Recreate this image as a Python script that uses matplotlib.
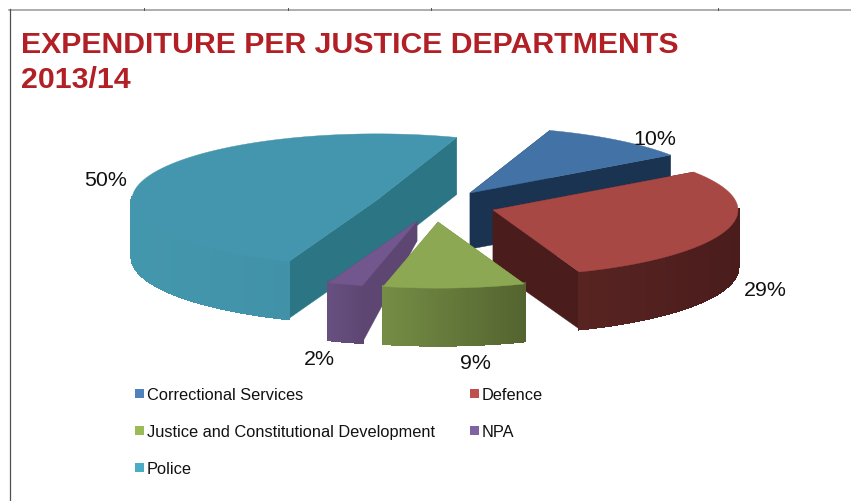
import matplotlib
matplotlib.use("Agg")
import matplotlib.pyplot as plt
from matplotlib.colors import to_rgb
from matplotlib.patches import Rectangle
import numpy as np

plt.rcParams['font.family'] = ['Liberation Sans', 'DejaVu Sans']

# data
departments = ['Correctional Services', 'Defence', 'Justice and Constitutional Development', 'NPA', 'Police']
shares = [10, 29, 9.3, 2.3, 49.4]
pct_labels = ['10%', '29%', '9%', '2%', '50%']
title_lines = ['EXPENDITURE PER JUSTICE DEPARTMENTS', '2013/14']

# look of each slice
top_cols = ['#4272A6', '#A84844', '#8CA852', '#72578F', '#4396AE']
face_cols = ['#1A3350', '#4A1C1C', '#748C44', '#5E4672', '#2B7585']
side_left = ['#1A3350', '#582422', '#748C44', '#66507F', '#4397AD']
side_right = ['#1A3350', '#4A1C1C', '#546430', '#5E4672', '#3F8DA3']
legend_cols = ['#4F81BD', '#C0504D', '#9BBB59', '#8064A2', '#4BACC6']
apex_x = [470, 493, 438, 417, 377]
apex_y = [194, 211, 223, 222, 201]
apex_depth = [56, 58, 58, 20, 57]
label_x = [655, 765, 475, 319, 106]
label_y = [140, 291, 364, 360, 181]

RADIUS = 245
SQUASH = 0.27
DEPTH = 57
START = 71

fig = plt.figure(figsize=(8.51, 5.02), dpi=100)
ax = fig.add_axes([0, 0, 1, 1])
ax.set_xlim(0, 851)
ax.set_ylim(502, 0)
ax.axis('off')

# slide frame
ax.plot([9, 851], [10.5, 10.5], color='#a0a0a0', lw=1.2)
ax.plot([9.5, 9.5], [10, 502], color='#505050', lw=0.9)
for tx in [144, 288, 431, 718]:
    ax.plot([tx, tx], [9, 11], color='#505050', lw=0.7)

ax.text(21, 45, title_lines[0], color='#B22026', fontsize=21.75, fontweight='bold', va='center')
ax.text(21, 79.5, title_lines[1], color='#B22026', fontsize=21.75, fontweight='bold', va='center')


def rim(cx, cy, a):
    a = np.radians(a)
    return cx + RADIUS * np.cos(a), cy - RADIUS * SQUASH * np.sin(a)


ends = START - np.cumsum(shares) * 3.6
starts = np.r_[START, ends[:-1]]

# back slices first
for i in sorted(range(len(shares)), key=lambda k: apex_y[k]):
    cx, cy = apex_x[i], apex_y[i]
    angs = np.linspace(starts[i], ends[i], 90)
    xs, ys = rim(cx, cy, angs)

    # flat cut faces
    for a in (starts[i], ends[i]):
        px, py = rim(cx, cy, a)
        ax.fill([cx, px, px, cx], [cy, py, py + DEPTH, cy + apex_depth[i]],
                color=face_cols[i], lw=0.3)

    # curved outer wall, only the part turned to the viewer
    c0, c1 = np.array(to_rgb(side_left[i])), np.array(to_rgb(side_right[i]))
    for j in range(len(angs) - 1):
        if np.sin(np.radians(angs[j])) > 0.02:
            continue
        t = (xs[j] - xs.min()) / max(xs.max() - xs.min(), 1)
        ax.fill([xs[j], xs[j + 1], xs[j + 1], xs[j]],
                [ys[j], ys[j + 1], ys[j + 1] + DEPTH, ys[j] + DEPTH],
                color=c0 + (c1 - c0) * t, lw=1.5, antialiased=False)

    ax.fill(np.r_[cx, xs], np.r_[cy, ys], color=top_cols[i], lw=0.3)
    ax.text(label_x[i], label_y[i], pct_labels[i], fontsize=15.4, color='#111111',
            ha='center', va='center', zorder=5)

# legend
leg_x = [135, 470, 135, 470, 135]
leg_y = [394, 394, 431, 431, 468]
for name, col, lx, ly in zip(departments, legend_cols, leg_x, leg_y):
    ax.add_patch(Rectangle((lx, ly - 4.5), 9, 9, facecolor=col, edgecolor='none', zorder=5))
    ax.text(lx + 12, ly + 1.5, name, fontsize=11.75, color='#111111', va='center', zorder=5)

fig.savefig('out.png', dpi=100)
